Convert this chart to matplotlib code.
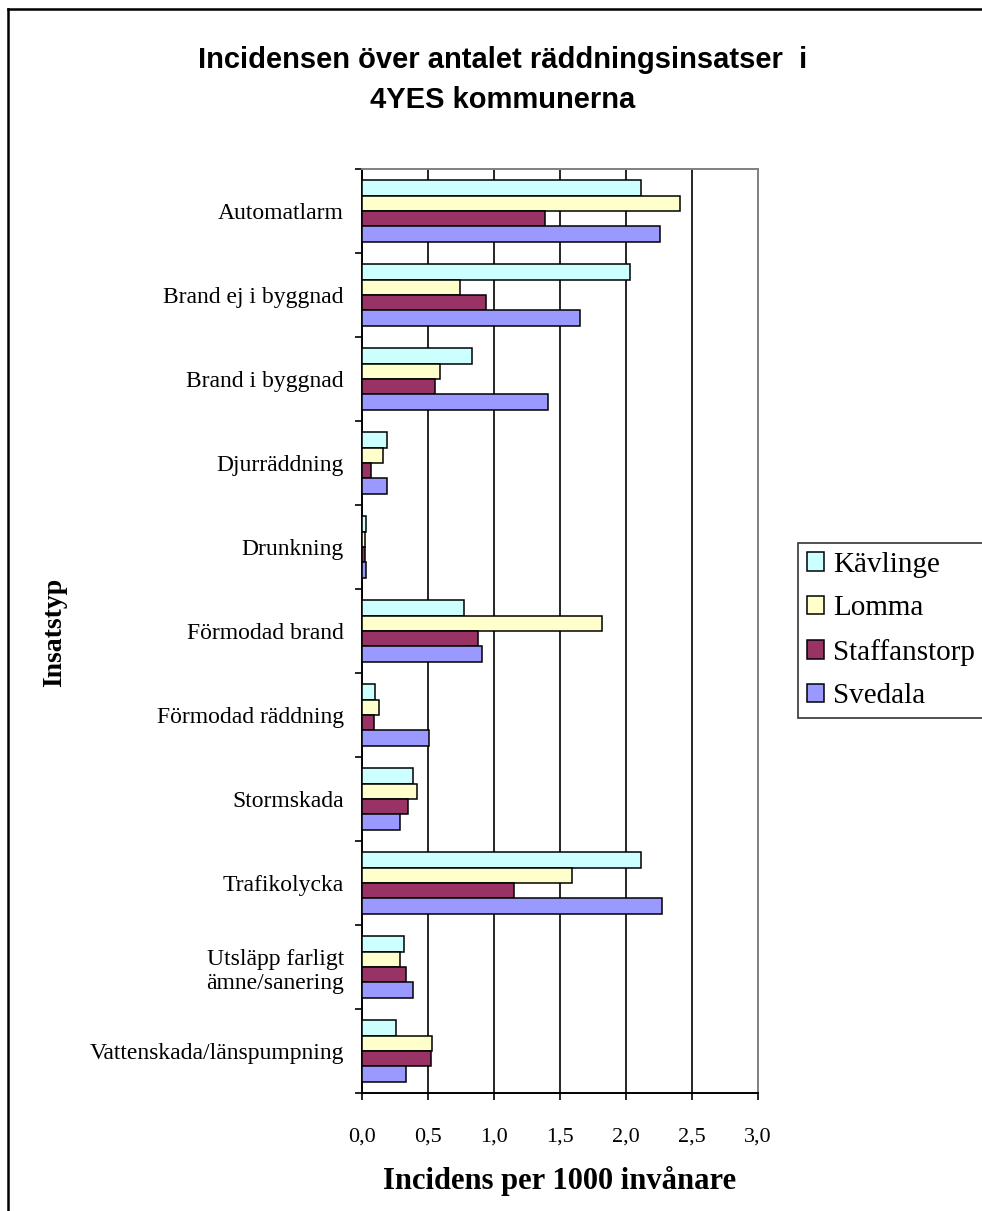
import numpy as np
import matplotlib
matplotlib.use("Agg")
import matplotlib.pyplot as plt
from matplotlib.lines import Line2D

kategorier = ["Automatlarm", "Brand ej i byggnad", "Brand i byggnad", "Djurräddning",
              "Drunkning", "Förmodad brand", "Förmodad räddning", "Stormskada",
              "Trafikolycka", "Utsläpp farligt\nämne/sanering", "Vattenskada/länspumpning"]
kommuner = ["Kävlinge", "Lomma", "Staffanstorp", "Svedala"]
kavlinge = [2.11, 2.03, 0.83, 0.19, 0.03, 0.77, 0.10, 0.39, 2.11, 0.32, 0.26]
lomma = [2.41, 0.74, 0.59, 0.16, 0.02, 1.82, 0.13, 0.42, 1.59, 0.29, 0.53]
staffanstorp = [1.39, 0.94, 0.55, 0.07, 0.02, 0.88, 0.09, 0.35, 1.15, 0.33, 0.52]
svedala = [2.26, 1.65, 1.41, 0.19, 0.03, 0.91, 0.51, 0.29, 2.27, 0.39, 0.33]
farger = ["#CCFFFF", "#FFFFCC", "#993366", "#9999FF"]
xticks = [0.0, 0.5, 1.0, 1.5, 2.0, 2.5, 3.0]

serif = "Liberation Serif"
sans = "Liberation Sans"

W, H = 982, 1211
fig = plt.figure(figsize=(W / 100, H / 100), dpi=100)
ax = fig.add_axes([362 / W, 1 - 1093 / H, (758 - 362) / W, (1093 - 169) / H])

y = np.arange(len(kategorier))
h = 0.183
for k, (namn, vals, c) in enumerate(zip(kommuner, [kavlinge, lomma, staffanstorp, svedala], farger)):
    ax.barh(y + (k - 1.5) * h, vals, height=h, color=c, edgecolor="black",
            linewidth=1.1, label=namn, zorder=3)

ax.set_xlim(0, 3.0)
ax.set_ylim(len(kategorier) - 0.5, -0.5)

# vertical gridlines
for xv in xticks[1:-1]:
    ax.axvline(xv, color="black", lw=1.2, zorder=1)

ax.set_xticks(xticks)
ax.set_xticklabels([f"{v:.1f}".replace(".", ",") for v in xticks], family=serif, fontsize=16)
ax.tick_params(axis="x", direction="out", length=5, width=1.2, pad=20)

# category boundaries carry the tick marks, centers carry the labels
ax.set_yticks(np.arange(len(kategorier) + 1) - 0.5)
ax.set_yticklabels([])
ax.set_yticks(y, minor=True)
ax.set_yticklabels(kategorier, minor=True, family=serif, fontsize=17)
ax.tick_params(axis="y", which="major", direction="out", length=5, width=1.2)
ax.tick_params(axis="y", which="minor", length=0, pad=13)

ax.spines["left"].set_linewidth(1.4)
ax.spines["bottom"].set_linewidth(1.4)
ax.spines["top"].set_color("#808080")
ax.spines["right"].set_color("#808080")
ax.spines["top"].set_linewidth(1.4)
ax.spines["right"].set_linewidth(1.4)

ax.set_xlabel("Incidens per 1000 invånare", family=serif, fontsize=22,
              fontweight="bold", labelpad=14)
fig.text(55 / W, 1 - 632 / H, "Insatstyp", family=serif, fontsize=20,
         fontweight="bold", rotation=90, ha="center", va="center")

fig.text(503 / W, 1 - 80 / H, "Incidensen över antalet räddningsinsatser  i\n4YES kommunerna",
         family=sans, fontsize=21, fontweight="bold", ha="center", va="center",
         linespacing=1.55)

leg = fig.legend(loc="upper left", bbox_to_anchor=(798 / W, 1 - 543 / H),
                 prop={"family": serif, "size": 21}, frameon=True, fancybox=False,
                 edgecolor="black", handlelength=0.6, handleheight=0.6,
                 handletextpad=0.3, labelspacing=0.6, borderpad=0.3,
                 borderaxespad=0)
leg.get_frame().set_linewidth(1.2)

# outer chart border
fig.add_artist(Line2D([8 / W, 8 / W], [1 - 9 / H, -0.01], transform=fig.transFigure,
                      color="black", lw=1.8))
fig.add_artist(Line2D([8 / W, 1.01], [1 - 9 / H, 1 - 9 / H], transform=fig.transFigure,
                      color="black", lw=1.8))

fig.savefig("out.png", dpi=100)
